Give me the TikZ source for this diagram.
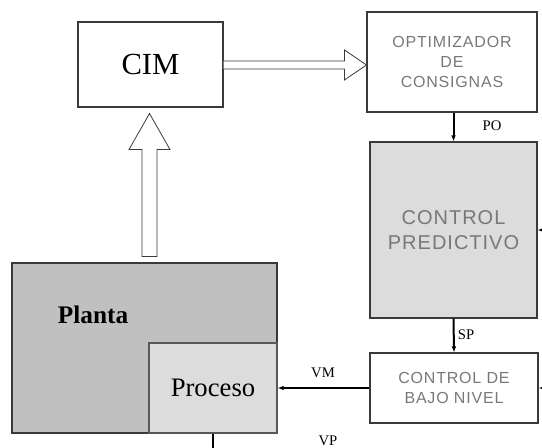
\documentclass[tikz,border=0pt]{standalone}
\usepackage{fontspec}
\setmainfont{Liberation Serif}
\newfontfamily\boxfont[LetterSpace=5]{Liberation Sans}
\usetikzlibrary{calc,arrows.meta}

\definecolor{plantgray}{HTML}{C0C0C0}
\definecolor{lightbox}{HTML}{DCDCDC}
\definecolor{edgegray}{HTML}{3A3A3A}
\definecolor{boxtext}{HTML}{787878}

\tikzset{
  sz/.style 2 args={minimum width=#1*0.75pt, minimum height=#2*0.75pt},
  block/.style={draw=edgegray, line width=0.8pt, inner sep=0pt, rectangle},
  boxlabel/.style={align=center, text=boxtext, font=\boxfont\fontsize{12}{15}\selectfont},
  sig/.style={line width=1.5pt, -{Latex[length=4.5pt,width=3.5pt]}},
  siglabel/.style={font=\fontsize{11}{13}\selectfont},
  hollow/.style={draw=edgegray, line width=0.6pt, fill=white, line join=miter}
}

\begin{document}
\begin{tikzpicture}[x=0.75pt,y=-0.75pt]
\useasboundingbox (0,0) rectangle (542,448);

% blocks
\node[block, sz={145}{85}] (cim) at (150.5,64.5) {\fontsize{23}{26}\selectfont CIM};
\node[block, sz={170}{100}, boxlabel] (opt) at (452,62) {OPTIMIZADOR\\DE\\CONSIGNAS};
\node[block, sz={167}{176}, fill=lightbox, boxlabel, font=\boxfont\fontsize{15}{19}\selectfont] (pred) at (453.5,230) {CONTROL\\PREDICTIVO};
\node[block, sz={168}{70}, boxlabel] (low) at (454,388) {CONTROL DE\\BAJO NIVEL};
\node[block, sz={265}{170}, fill=plantgray] (planta) at (144.5,348) {};
\node[block, sz={128}{90}, fill=lightbox, draw=edgegray!85, line width=1pt] (proc) at (213,388) {\fontsize{20}{23}\selectfont Proceso};
\node[font=\bfseries\fontsize{19}{22}\selectfont] (plabel) at (93,315) {Planta};

% information flow arrows (hollow)
\coordinate (vtip) at ($(cim.south)+(-1,6)$);
\coordinate (vbase) at ($(vtip |- planta.north)+(0,-6)$);
\draw[hollow] ($(vbase)+(-7.5,0)$) -- ($(vtip)+(-7.5,36)$) -- ($(vtip)+(-20.5,36)$)
  -- (vtip) -- ($(vtip)+(20.5,36)$) -- ($(vtip)+(7.5,36)$) -- ($(vbase)+(7.5,0)$) -- cycle;

\coordinate (htip) at ($(opt.west |- cim.east)+(0,0.5)$);
\coordinate (hbase) at ($(cim.east)+(0,0.5)$);
\draw[hollow] ($(hbase)+(0,-4)$) -- ($(htip)+(-22,-4)$) -- ($(htip)+(-22,-15)$)
  -- (htip) -- ($(htip)+(-22,15)$) -- ($(htip)+(-22,4)$) -- ($(hbase)+(0,4)$);

% signal arrows
\draw[sig] (opt.south -| pred.north) -- (pred.north);
\draw[sig] (pred.south) -- (low.north);
\draw[sig] (low.west) -- (proc.east);
\coordinate (vpend) at (proc.south |- 0,448);
\draw[line width=1.5pt] (proc.south) -- (vpend);
\coordinate (inpred) at (542,230);
\coordinate (inlow) at (542,388);
\draw[sig] (inpred) -- (pred.east);
\draw[sig] (inlow) -- (low.east);

% signal labels
\node[siglabel] (po) at (492,126) {PO};
\node[siglabel] (sp) at (466,335) {SP};
\node[siglabel] (vm) at (323,373) {VM};
\node[siglabel] (vp) at (328,441) {VP};
\end{tikzpicture}
\end{document}
